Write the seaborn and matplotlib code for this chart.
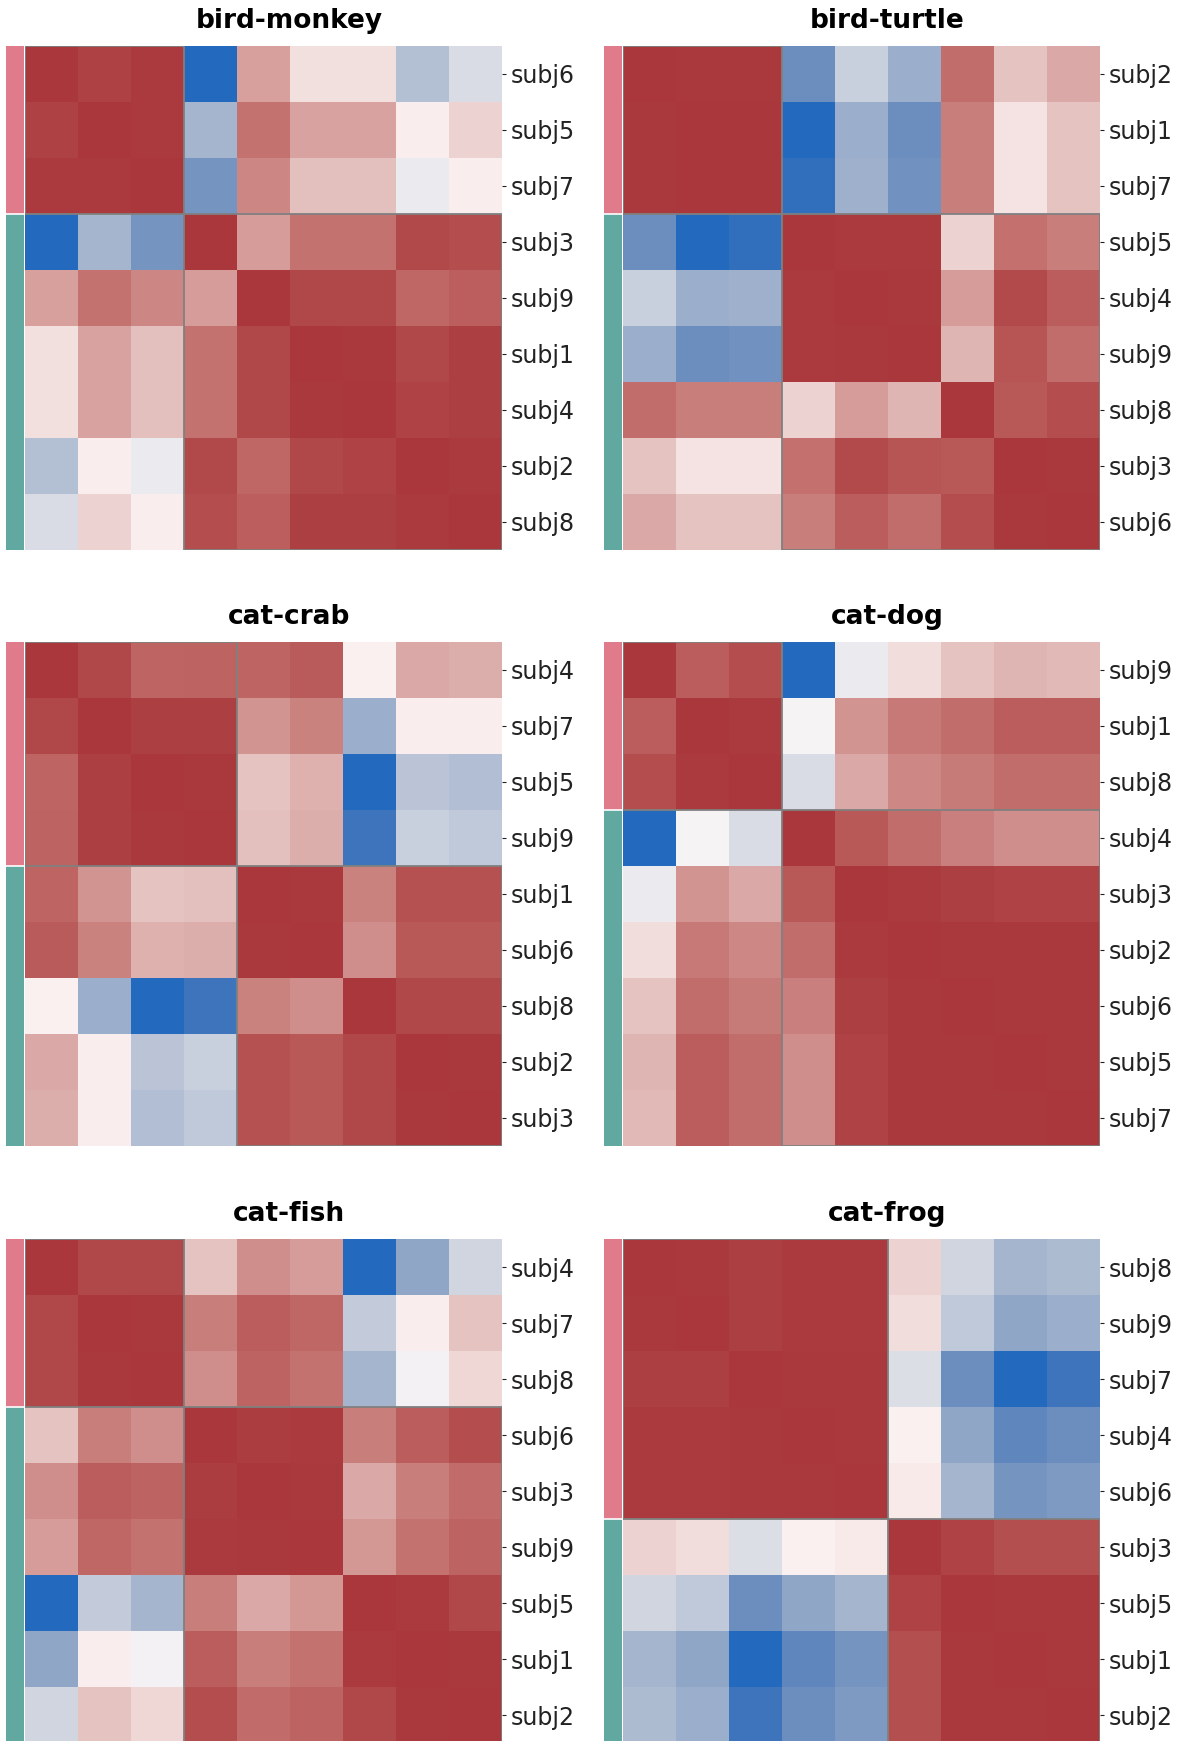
import numpy as np
import pandas as pd
import seaborn as sns
import matplotlib.pyplot as plt
from matplotlib.colors import ListedColormap
from matplotlib.patches import Rectangle

# subject order (after clustering) and correlation values for each pair
bird_monkey_subjects = ['subj6', 'subj5', 'subj7', 'subj3', 'subj9', 'subj1', 'subj4', 'subj2', 'subj8']
bird_monkey_corr = [
    [1.00, 0.95, 0.98, -1.00, 0.46, 0.14, 0.14, -0.38, -0.20],
    [0.95, 1.00, 0.98, -0.45, 0.70, 0.45, 0.45, 0.07, 0.20],
    [0.98, 0.98, 1.00, -0.68, 0.59, 0.30, 0.30, -0.11, 0.07],
    [-1.00, -0.45, -0.68, 1.00, 0.48, 0.70, 0.70, 0.91, 0.89],
    [0.46, 0.70, 0.59, 0.48, 1.00, 0.92, 0.92, 0.75, 0.80],
    [0.14, 0.45, 0.30, 0.70, 0.92, 1.00, 0.99, 0.92, 0.96],
    [0.14, 0.45, 0.30, 0.70, 0.92, 0.99, 1.00, 0.94, 0.96],
    [-0.38, 0.07, -0.11, 0.91, 0.75, 0.92, 0.94, 1.00, 0.98],
    [-0.20, 0.20, 0.07, 0.89, 0.80, 0.96, 0.96, 0.98, 1.00],
]
bird_monkey_split = 3

bird_turtle_subjects = ['subj2', 'subj1', 'subj7', 'subj5', 'subj4', 'subj9', 'subj8', 'subj3', 'subj6']
bird_turtle_corr = [
    [1.00, 0.99, 0.99, -0.72, -0.28, -0.50, 0.72, 0.28, 0.41],
    [0.99, 1.00, 1.00, -1.00, -0.50, -0.72, 0.64, 0.12, 0.28],
    [0.99, 1.00, 1.00, -0.96, -0.48, -0.70, 0.64, 0.12, 0.28],
    [-0.72, -1.00, -0.96, 1.00, 0.98, 0.98, 0.20, 0.71, 0.64],
    [-0.28, -0.50, -0.48, 0.98, 1.00, 0.99, 0.48, 0.90, 0.81],
    [-0.50, -0.72, -0.70, 0.98, 0.99, 1.00, 0.35, 0.85, 0.72],
    [0.72, 0.64, 0.64, 0.20, 0.48, 0.35, 1.00, 0.83, 0.89],
    [0.28, 0.12, 0.12, 0.71, 0.90, 0.85, 0.83, 1.00, 0.99],
    [0.41, 0.28, 0.28, 0.64, 0.81, 0.72, 0.89, 0.99, 1.00],
]
bird_turtle_split = 3

cat_crab_subjects = ['subj4', 'subj7', 'subj5', 'subj9', 'subj1', 'subj6', 'subj8', 'subj2', 'subj3']
cat_crab_corr = [
    [1.00, 0.92, 0.77, 0.78, 0.77, 0.82, 0.05, 0.41, 0.39],
    [0.92, 1.00, 0.96, 0.96, 0.52, 0.61, -0.50, 0.07, 0.07],
    [0.77, 0.96, 1.00, 0.99, 0.28, 0.37, -1.00, -0.35, -0.39],
    [0.78, 0.96, 0.99, 1.00, 0.30, 0.39, -0.92, -0.28, -0.32],
    [0.77, 0.52, 0.28, 0.30, 1.00, 0.99, 0.61, 0.87, 0.87],
    [0.82, 0.61, 0.37, 0.39, 0.99, 1.00, 0.55, 0.83, 0.83],
    [0.05, -0.50, -1.00, -0.92, 0.61, 0.55, 1.00, 0.92, 0.92],
    [0.41, 0.07, -0.35, -0.28, 0.87, 0.83, 0.92, 1.00, 0.99],
    [0.39, 0.07, -0.39, -0.32, 0.87, 0.83, 0.92, 0.99, 1.00],
]
cat_crab_split = 4

cat_dog_subjects = ['subj9', 'subj1', 'subj8', 'subj4', 'subj3', 'subj2', 'subj6', 'subj5', 'subj7']
cat_dog_corr = [
    [1.00, 0.81, 0.89, -1.00, -0.11, 0.15, 0.28, 0.35, 0.33],
    [0.81, 1.00, 0.98, -0.05, 0.52, 0.66, 0.72, 0.81, 0.81],
    [0.89, 0.98, 1.00, -0.20, 0.41, 0.58, 0.65, 0.72, 0.72],
    [-1.00, -0.05, -0.20, 1.00, 0.83, 0.72, 0.63, 0.55, 0.55],
    [-0.11, 0.52, 0.41, 0.83, 1.00, 0.98, 0.96, 0.94, 0.94],
    [0.15, 0.66, 0.58, 0.72, 0.98, 1.00, 0.99, 0.99, 0.99],
    [0.28, 0.72, 0.65, 0.63, 0.96, 0.99, 1.00, 0.99, 0.99],
    [0.35, 0.81, 0.72, 0.55, 0.94, 0.99, 0.99, 1.00, 0.99],
    [0.33, 0.81, 0.72, 0.55, 0.94, 0.99, 0.99, 0.99, 1.00],
]
cat_dog_split = 3

cat_fish_subjects = ['subj4', 'subj7', 'subj8', 'subj6', 'subj3', 'subj9', 'subj5', 'subj1', 'subj2']
cat_fish_corr = [
    [1.00, 0.92, 0.92, 0.28, 0.55, 0.48, -1.00, -0.55, -0.24],
    [0.92, 1.00, 0.99, 0.64, 0.81, 0.75, -0.30, 0.07, 0.28],
    [0.92, 0.99, 1.00, 0.55, 0.78, 0.70, -0.45, -0.07, 0.18],
    [0.28, 0.64, 0.55, 1.00, 0.97, 0.98, 0.64, 0.81, 0.89],
    [0.55, 0.81, 0.78, 0.97, 1.00, 0.99, 0.41, 0.64, 0.73],
    [0.48, 0.75, 0.70, 0.98, 0.99, 1.00, 0.50, 0.70, 0.78],
    [-1.00, -0.30, -0.45, 0.64, 0.41, 0.50, 1.00, 0.98, 0.92],
    [-0.55, 0.07, -0.07, 0.81, 0.64, 0.70, 0.98, 1.00, 0.99],
    [-0.24, 0.28, 0.18, 0.89, 0.73, 0.78, 0.92, 0.99, 1.00],
]
cat_fish_split = 3

cat_frog_subjects = ['subj8', 'subj9', 'subj7', 'subj4', 'subj6', 'subj3', 'subj5', 'subj1', 'subj2']
cat_frog_corr = [
    [1.00, 0.99, 0.96, 0.98, 0.98, 0.20, -0.24, -0.45, -0.41],
    [0.99, 1.00, 0.96, 0.98, 0.98, 0.15, -0.32, -0.55, -0.50],
    [0.96, 0.96, 1.00, 0.99, 0.99, -0.18, -0.72, -1.00, -0.92],
    [0.98, 0.98, 0.99, 1.00, 0.99, 0.05, -0.55, -0.78, -0.72],
    [0.98, 0.98, 0.99, 0.99, 1.00, 0.09, -0.45, -0.68, -0.64],
    [0.20, 0.15, -0.18, 0.05, 0.09, 1.00, 0.94, 0.88, 0.88],
    [-0.24, -0.32, -0.72, -0.55, -0.45, 0.94, 1.00, 0.99, 0.99],
    [-0.45, -0.55, -1.00, -0.78, -0.68, 0.88, 0.99, 1.00, 0.99],
    [-0.41, -0.50, -0.92, -0.72, -0.64, 0.88, 0.99, 0.99, 1.00],
]
cat_frog_split = 5

titles = ['bird-monkey', 'bird-turtle', 'cat-crab', 'cat-dog', 'cat-fish', 'cat-frog']
group_colors = ['#e07b8c', '#61a8a0']

panels = [
    (bird_monkey_subjects, bird_monkey_corr, bird_monkey_split),
    (bird_turtle_subjects, bird_turtle_corr, bird_turtle_split),
    (cat_crab_subjects, cat_crab_corr, cat_crab_split),
    (cat_dog_subjects, cat_dog_corr, cat_dog_split),
    (cat_fish_subjects, cat_fish_corr, cat_fish_split),
    (cat_frog_subjects, cat_frog_corr, cat_frog_split),
]

W, H = 1177, 1741


def draw_panel(fig, x0, top, subjects, corr, split, title):
    """Side colour bar + clustered correlation heatmap, pixel positions in figure space."""
    bar_w, heat_w, heat_h = 18, 477, 504
    ax_bar = fig.add_axes([x0 / W, 1 - (top + heat_h) / H, bar_w / W, heat_h / H])
    ax = fig.add_axes([(x0 + bar_w + 1) / W, 1 - (top + heat_h) / H, heat_w / W, heat_h / H])

    n = len(subjects)
    df = pd.DataFrame(corr, index=subjects, columns=subjects)
    sns.heatmap(df, ax=ax, cmap='vlag', vmin=-1, vmax=1, cbar=False,
                xticklabels=False, yticklabels=True)

    groups = pd.DataFrame({'group': [0] * split + [1] * (n - split)}, index=subjects)
    sns.heatmap(groups, ax=ax_bar, cmap=ListedColormap(group_colors), vmin=0, vmax=1,
                cbar=False, xticklabels=False, yticklabels=False)
    ax_bar.axhline(split, color='white', lw=1.2)
    ax_bar.set_ylabel('')

    # outline the two cluster blocks
    for start, size in [(0, split), (split, n - split)]:
        ax.add_patch(Rectangle((start, start), size, size, fill=False,
                               edgecolor='#808080', lw=1.3))

    ax.yaxis.tick_right()
    ax.tick_params(axis='y', labelsize=17, labelrotation=0, length=3, width=0.8,
                   pad=3, colors='#222222')
    ax.set_xlabel('')
    ax.set_ylabel('')

    fig.text((x0 + 283) / W, 1 - (top - 25) / H, title, ha='center', va='center',
             fontsize=19, fontweight='bold')


fig = plt.figure(figsize=(W / 100, H / 100), dpi=100)

col_x = [6, 604]
row_top = [45.5, 642, 1239]

for i, (subjects, corr, split) in enumerate(panels):
    draw_panel(fig, col_x[i % 2], row_top[i // 2], subjects, corr, split, titles[i])

fig.savefig('out.png', dpi=100)
